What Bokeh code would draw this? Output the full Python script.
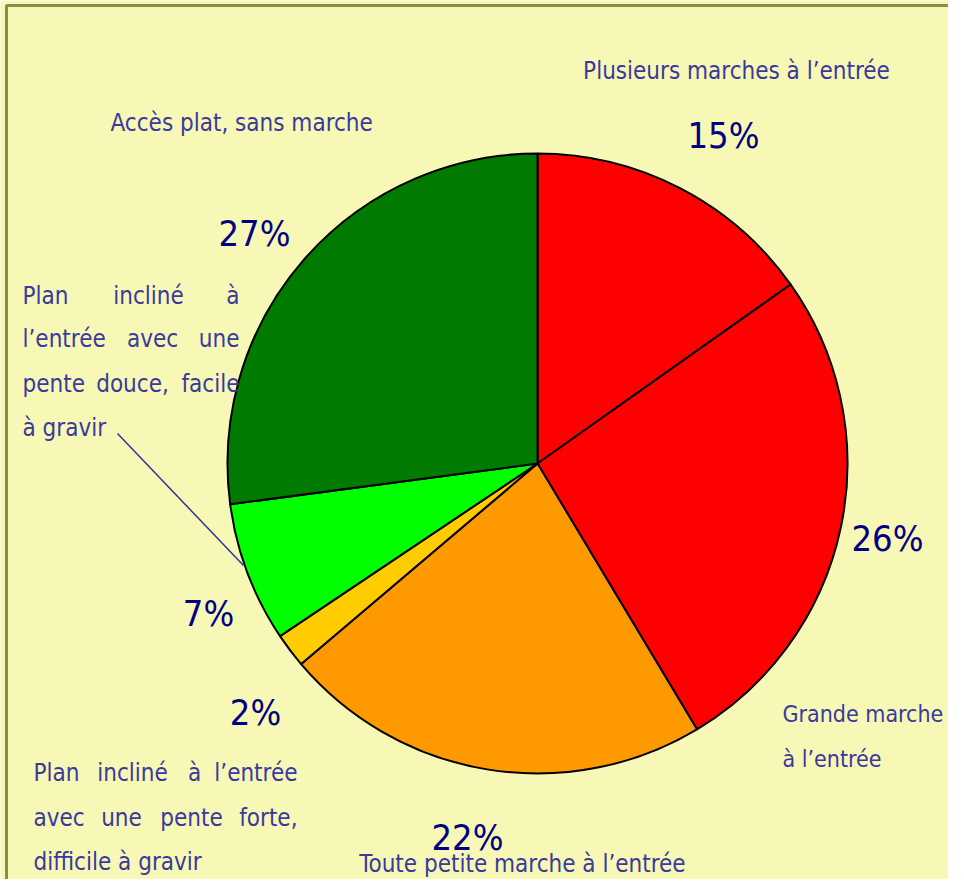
import numpy as np
from bokeh.plotting import figure
from bokeh.models import Range1d
from bokeh.core.properties import value
from bokeh.embed import file_html
from bokeh.resources import INLINE

# ---- data ----
categories = [
    "Plusieurs marches à l’entrée",
    "Grande marche à l’entrée",
    "Toute petite marche à l’entrée",
    "Plan incliné à l’entrée avec une pente forte, difficile à gravir",
    "Plan incliné à l’entrée avec une pente douce, facile à gravir",
    "Accès plat, sans marche",
]
values = [15.2, 26.2, 22.4, 1.8, 7.3, 27.1]
pct_labels = ["15%", "26%", "22%", "2%", "7%", "27%"]
colors = ["#FF0000", "#FF0000", "#FF9900", "#FFCC00", "#00FF00", "#007A00"]

FONT = value("'DejaVu Sans Condensed', Roboto")
LABEL_COLOR = "#3A3A9C"
PCT_COLOR = "#000080"
BG = "#F7F7B6"

W, H = 948, 879
def Y(y):
    return 895 - y

p = figure(width=W, height=H, output_backend="svg", toolbar_location=None,
           x_range=Range1d(0, W), y_range=Range1d(895 - H, 895),
           min_border=0)
p.axis.visible = False
p.grid.visible = False
p.background_fill_color = BG
p.border_fill_color = BG
p.outline_line_color = None

# frame (top and left edges visible in the reference)
p.line(x=[6, 6, 1000], y=[Y(1000), Y(5), Y(5)], line_color="#8C8C42", line_width=3)

# ---- pie ----
vals = np.array(values, dtype=float)
cum = np.concatenate([[0.0], np.cumsum(vals)]) / vals.sum()
start = np.pi / 2 - 2 * np.pi * cum[:-1]
end = np.pi / 2 - 2 * np.pi * cum[1:]
cx, cy, r = 537, Y(463), 310
p.wedge(x=cx, y=cy, radius=r, start_angle=start, end_angle=end,
        direction="clock", fill_color=colors, line_color="black", line_width=2)

# ---- leader line ----
p.line(x=[117, 243], y=[Y(433), Y(565)], line_color="#33339A", line_width=1.5)

LS = "24px"
PS = "36px"

def txt(x, y, s, align="left", size=LS, color=LABEL_COLOR):
    p.text(x=[x], y=[Y(y)], text=[s], text_font=FONT, text_font_size=size,
           text_color=color, text_align=align, text_baseline="alphabetic")

# percentages
txt(723, 135, pct_labels[0], "center", PS, PCT_COLOR)
txt(887, 538, pct_labels[1], "center", PS, PCT_COLOR)
txt(467, 837, pct_labels[2], "center", PS, PCT_COLOR)
txt(255, 712, pct_labels[3], "center", PS, PCT_COLOR)
txt(208, 613, pct_labels[4], "center", PS, PCT_COLOR)
txt(254, 233, pct_labels[5], "center", PS, PCT_COLOR)

# category labels
txt(736, 70, categories[0], "center")
txt(782, 713, "Grande marche", size="23px")
txt(782, 758, "à l’entrée", size="23px")
txt(522, 863, categories[2], "center")
txt(110, 122, categories[5])

# justified block: pente douce
txt(22, 295, "Plan"); txt(148, 295, "incliné", "center"); txt(239, 295, "à", "right")
txt(22, 338, "l’entrée"); txt(152, 338, "avec", "center"); txt(239, 338, "une", "right")
txt(22, 383, "pente"); txt(132, 383, "douce,", "center"); txt(239, 383, "facile", "right")
txt(22, 427, "à gravir")

# justified block: pente forte
txt(33, 772, "Plan"); txt(132, 772, "incliné", "center"); txt(194, 772, "à", "center"); txt(297, 772, "l’entrée", "right")
txt(33, 817, "avec"); txt(121, 817, "une", "center"); txt(191, 817, "pente", "center"); txt(297, 817, "forte,", "right")
txt(33, 861, "difficile à gravir")

open("out.html", "w").write(file_html(p, INLINE))
